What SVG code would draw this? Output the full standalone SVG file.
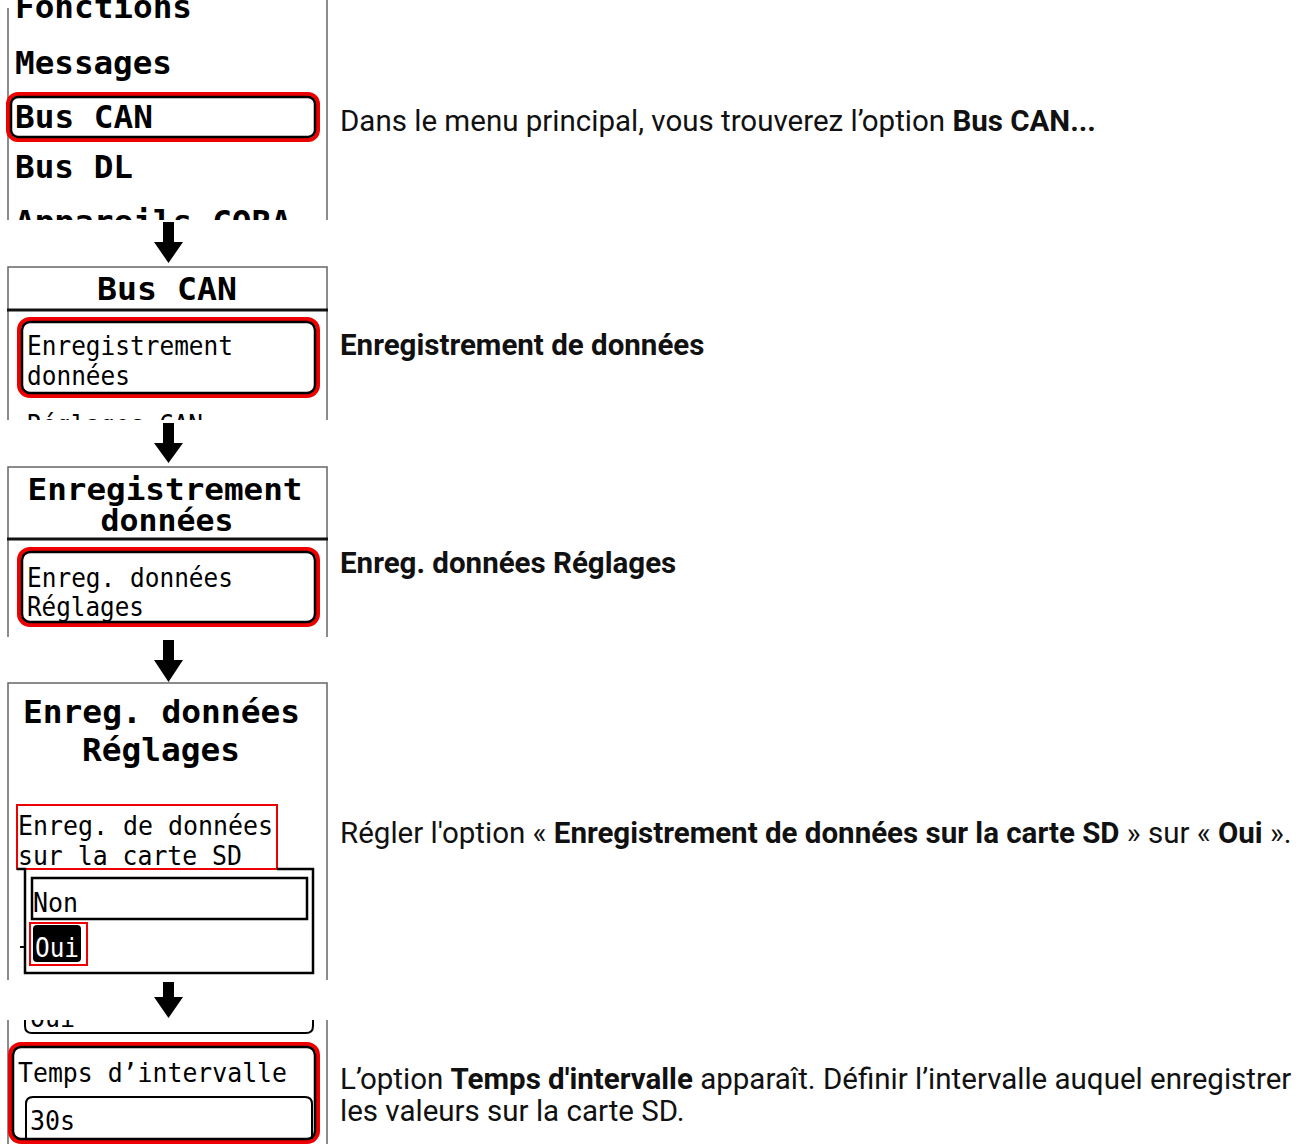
<svg xmlns="http://www.w3.org/2000/svg" width="1304" height="1144" viewBox="0 0 1304 1144">
<style>
.frame{fill:none;stroke:#666;stroke-width:1.5}
.sep{stroke:#111;stroke-width:3}
.lcdb{font-family:"DejaVu Sans Mono","Liberation Mono",monospace;font-weight:bold;font-size:32px;fill:#000}
.lcd{font-family:"DejaVu Sans Mono","Liberation Mono",monospace;font-size:27px;fill:#000}
.selR{fill:none;stroke:#ee0000;stroke-width:4}
.selK{fill:none;stroke:#000;stroke-width:2.5}
.desc{font-family:Roboto,"Noto Sans",sans-serif;font-size:29.5px;fill:#111}
.b{font-weight:bold}
.arrow{fill:#000}
</style>
<defs>
<clipPath id="c1"><rect x="0" y="0" width="340" height="220"/></clipPath>
<clipPath id="c2"><rect x="0" y="262" width="340" height="158"/></clipPath>
<clipPath id="c5"><rect x="0" y="1020" width="340" height="124"/></clipPath>
</defs>
<rect width="1304" height="1144" fill="#fff"/>

<g id="screen-main-menu" clip-path="url(#c1)">
<line class="frame" x1="8" y1="8" x2="8" y2="220"/>
<line class="frame" x1="327" y1="0" x2="327" y2="220"/>
<text class="lcdb" x="15" y="18" textLength="177" lengthAdjust="spacingAndGlyphs">Fonctions</text>
<text class="lcdb" x="15" y="74" textLength="157" lengthAdjust="spacingAndGlyphs">Messages</text>
<rect class="selR" x="8" y="94" width="310" height="46" rx="10"/>
<rect class="selK" x="11" y="97" width="304" height="40" rx="7"/>
<text class="lcdb" x="15" y="128" textLength="138" lengthAdjust="spacingAndGlyphs">Bus CAN</text>
<text class="lcdb" x="15" y="178" textLength="118" lengthAdjust="spacingAndGlyphs">Bus DL</text>
<text class="lcdb" x="15" y="233" textLength="276" lengthAdjust="spacingAndGlyphs">Appareils CORA</text>
</g>

<g id="screen-bus-can" clip-path="url(#c2)">
<path class="frame" d="M8 420 V267 H327 V420"/>
<text class="lcdb" x="167" y="300" text-anchor="middle" textLength="140" lengthAdjust="spacingAndGlyphs">Bus CAN</text>
<line class="sep" x1="7" y1="310" x2="328" y2="310"/>
<rect class="selR" x="19" y="319" width="299" height="77" rx="11"/>
<rect class="selK" x="22" y="322" width="293" height="71" rx="8"/>
<text class="lcd" x="27" y="355" textLength="206" lengthAdjust="spacingAndGlyphs">Enregistrement</text>
<text class="lcd" x="27" y="385" textLength="103" lengthAdjust="spacingAndGlyphs">données</text>
<text class="lcd" x="27" y="434" textLength="176" lengthAdjust="spacingAndGlyphs">Réglages CAN</text>
</g>

<g id="screen-enregistrement">
<path class="frame" d="M8 637 V467 H327 V637"/>
<text class="lcdb" x="165" y="500" text-anchor="middle" textLength="275" lengthAdjust="spacingAndGlyphs" style="font-size:30px">Enregistrement</text>
<text class="lcdb" x="167" y="531" text-anchor="middle" textLength="133" lengthAdjust="spacingAndGlyphs" style="font-size:30px">données</text>
<line class="sep" x1="7" y1="539" x2="328" y2="539"/>
<rect class="selR" x="19" y="549" width="299" height="76" rx="11"/>
<rect class="selK" x="22" y="552" width="293" height="70" rx="8"/>
<text class="lcd" x="27" y="587" textLength="206" lengthAdjust="spacingAndGlyphs">Enreg. données</text>
<text class="lcd" x="27" y="616" textLength="117" lengthAdjust="spacingAndGlyphs">Réglages</text>
</g>

<g id="screen-reglages">
<path class="frame" d="M8 980 V683 H327 V980"/>
<text class="lcdb" x="23" y="723" textLength="277" lengthAdjust="spacingAndGlyphs">Enreg. données</text>
<text class="lcdb" x="82" y="761" textLength="158" lengthAdjust="spacingAndGlyphs">Réglages</text>
<rect x="17" y="805" width="260" height="64" fill="none" stroke="#ee0000" stroke-width="2"/>
<text class="lcd" x="18" y="835" textLength="255" lengthAdjust="spacingAndGlyphs">Enreg. de données</text>
<text class="lcd" x="18" y="865" textLength="224" lengthAdjust="spacingAndGlyphs">sur la carte SD</text>
<path d="M277 869 H313 V973 H25 V869 H17" fill="none" stroke="#000" stroke-width="2.5"/>
<rect x="32" y="878" width="275" height="41" fill="none" stroke="#000" stroke-width="2.5"/>
<text class="lcd" x="33" y="912" textLength="45" lengthAdjust="spacingAndGlyphs">Non</text>
<line x1="20" y1="947" x2="25" y2="947" stroke="#000" stroke-width="2"/>
<rect x="33" y="925" width="48" height="37" rx="4" fill="#000"/>
<rect x="30" y="923" width="57" height="42" fill="none" stroke="#ee0000" stroke-width="2"/>
<text class="lcd" x="35" y="957" textLength="44" lengthAdjust="spacingAndGlyphs" style="fill:#fff">Oui</text>
</g>

<g id="screen-intervalle" clip-path="url(#c5)">
<line class="frame" x1="8" y1="1020" x2="8" y2="1144"/>
<line class="frame" x1="327" y1="1020" x2="327" y2="1144"/>
<path d="M25 1010 V1026 Q25 1033 32 1033 H306 Q313 1033 313 1026 V1010" fill="none" stroke="#000" stroke-width="2"/>
<text class="lcd" x="30" y="1027" textLength="45" lengthAdjust="spacingAndGlyphs">Oui</text>
<rect class="selR" x="10" y="1044" width="308" height="98" rx="11"/>
<rect class="selK" x="13" y="1047" width="302" height="92" rx="8"/>
<text class="lcd" x="18" y="1082" textLength="269" lengthAdjust="spacingAndGlyphs">Temps d’intervalle</text>
<path d="M26 1139 V1104 Q26 1097 33 1097 H305 Q312 1097 312 1104 V1139" fill="none" stroke="#000" stroke-width="2"/>
<text class="lcd" x="30" y="1130" textLength="45" lengthAdjust="spacingAndGlyphs">30s</text>
</g>

<g id="connectors">
<polygon class="arrow" points="163,222 174,222 174,242 183,242 168.5,263 154,242 163,242"/>
<polygon class="arrow" points="163,423 174,423 174,443 183,443 168.5,463 154,443 163,443"/>
<polygon class="arrow" points="163,640 174,640 174,660 183,660 168.5,682 154,660 163,660"/>
<polygon class="arrow" points="163,982 174,982 174,997 183,997 168.5,1018 154,997 163,997"/>
</g>

<g id="descriptions">
<text class="desc" x="340" y="131">Dans le menu principal, vous trouverez l’option <tspan class="b">Bus CAN...</tspan></text>
<text class="desc b" x="340" y="355">Enregistrement de données</text>
<text class="desc b" x="340" y="573">Enreg. données Réglages</text>
<text class="desc" x="340" y="843">Régler l'option « <tspan class="b">Enregistrement de données sur la carte SD</tspan> » sur « <tspan class="b">Oui</tspan> ».</text>
<text class="desc" x="340" y="1089">L’option <tspan class="b">Temps d'intervalle</tspan> apparaît. Définir l’intervalle auquel enregistrer</text>
<text class="desc" x="340" y="1121">les valeurs sur la carte SD.</text>
</g>
</svg>
